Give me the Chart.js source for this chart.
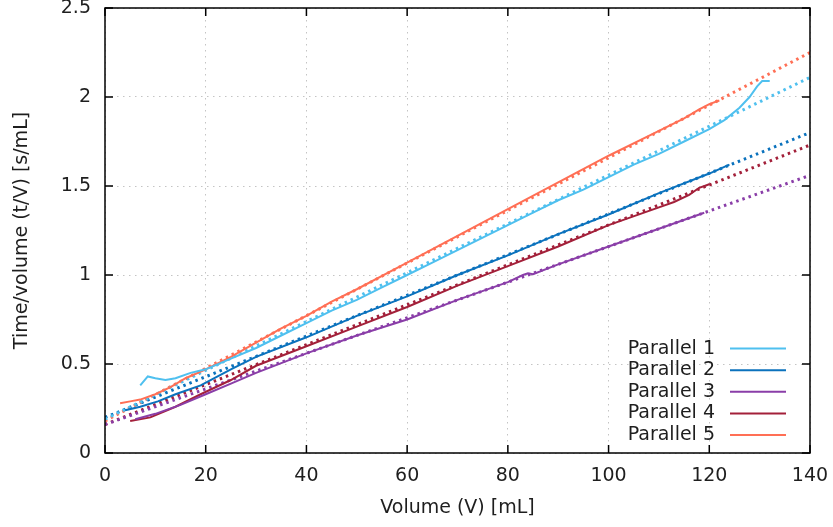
<!DOCTYPE html>
<html>
<head>
<meta charset="utf-8">
<title>Time/volume vs volume</title>
<script src="https://cdn.jsdelivr.net/npm/chart.js@4.4.1/dist/chart.umd.min.js"></script>
<style>
  html, body { margin: 0; padding: 0; background: #fff; }
  #wrap { width: 833px; height: 527px; }
</style>
</head>
<body>
<div id="wrap"><canvas id="chart" width="833" height="527"></canvas></div>
<script>
// measured runs (volume in mL, t/V in s/mL)
const seriesLabels = ['Parallel 1', 'Parallel 2', 'Parallel 3', 'Parallel 4', 'Parallel 5'];
const seriesColors = ['#4fc0ef', '#0b72bd', '#8a3ea8', '#a3203a', '#ff6f55'];

const vol1 = [7, 8.5, 10, 12, 14, 17, 20, 25, 30, 35, 40, 45, 50, 55, 60, 65, 70, 75, 80, 85, 90, 95, 100, 105, 110, 115, 120, 123, 126, 128, 129.5, 130.5, 132];
const tv1 = [0.38, 0.43, 0.42, 0.41, 0.42, 0.45, 0.47, 0.53, 0.59, 0.66, 0.73, 0.80, 0.86, 0.93, 1.00, 1.07, 1.14, 1.21, 1.28, 1.35, 1.42, 1.48, 1.55, 1.62, 1.68, 1.75, 1.82, 1.87, 1.94, 2.00, 2.06, 2.09, 2.09];

const vol2 = [4, 7, 10.5, 14, 19, 25, 30, 40, 50, 60, 70, 80, 90, 100, 110, 120, 124];
const tv2 = [0.24, 0.26, 0.29, 0.33, 0.38, 0.47, 0.54, 0.65, 0.77, 0.88, 1.00, 1.11, 1.23, 1.34, 1.46, 1.57, 1.62];

const vol3 = [6, 10, 15, 20, 25, 30, 40, 50, 60, 70, 80, 83, 84, 85, 90, 100, 110, 119];
const tv3 = [0.19, 0.22, 0.27, 0.33, 0.39, 0.45, 0.56, 0.66, 0.75, 0.86, 0.96, 1.00, 1.01, 1.005, 1.06, 1.16, 1.26, 1.35];

const vol4 = [5, 9, 14, 19, 25, 30, 40, 50, 60, 70, 80, 90, 100, 110, 113, 116, 118, 120];
const tv4 = [0.18, 0.20, 0.26, 0.33, 0.41, 0.49, 0.60, 0.71, 0.82, 0.94, 1.05, 1.16, 1.28, 1.38, 1.41, 1.45, 1.49, 1.51];

const vol5 = [3, 5, 7, 10, 13, 16, 20, 25, 30, 35, 40, 45, 50, 60, 70, 80, 90, 100, 110, 115, 118, 120, 122];
const tv5 = [0.28, 0.29, 0.30, 0.33, 0.37, 0.42, 0.47, 0.54, 0.62, 0.70, 0.77, 0.85, 0.92, 1.07, 1.22, 1.37, 1.52, 1.67, 1.81, 1.88, 1.93, 1.96, 1.98];

// linear fits, read at V = 0 and V = 140
const trendVolume = [0, 140];
const trendStart = [0.19, 0.20, 0.16, 0.16, 0.18];
const trendEnd = [2.11, 1.80, 1.56, 1.73, 2.25];

const xTickStep = 20;
const yTickStep = 0.5;

const volumes = [vol1, vol2, vol3, vol4, vol5];
const ratios = [tv1, tv2, tv3, tv4, tv5];

const fontFamily = "'DejaVu Sans', Verdana, sans-serif";
const textColor = '#1e1e1e';

function toPoints(xs, ys) {
    return xs.map((x, i) => ({ x: x, y: ys[i] }));
}

const datasets = [];
seriesLabels.forEach((label, i) => {
    datasets.push({
        label: label,
        data: toPoints(volumes[i], ratios[i]),
        borderColor: seriesColors[i],
        borderWidth: 2,
        pointRadius: 0,
        tension: 0
    });
});
seriesLabels.forEach((label, i) => {
    datasets.push({
        label: label + ' fit',
        data: toPoints(trendVolume, [trendStart[i], trendEnd[i]]),
        borderColor: seriesColors[i],
        borderWidth: 3,
        borderDash: [2.5, 4],
        pointRadius: 0
    });
});

// gnuplot-like box with inward ticks, plus the key in the lower right
const framePlugin = {
    id: 'frame',
    afterDatasetsDraw(chart) {
        const ctx = chart.ctx;
        const area = chart.chartArea;
        const xs = chart.scales.x;
        const ys = chart.scales.y;
        const tick = 8;

        ctx.save();
        ctx.strokeStyle = '#000';
        ctx.lineWidth = 1.5;
        ctx.strokeRect(area.left, area.top, area.right - area.left, area.bottom - area.top);

        ctx.beginPath();
        xs.ticks.forEach(t => {
            const px = xs.getPixelForValue(t.value);
            ctx.moveTo(px, area.bottom);
            ctx.lineTo(px, area.bottom - tick);
            ctx.moveTo(px, area.top);
            ctx.lineTo(px, area.top + tick);
        });
        ys.ticks.forEach(t => {
            const py = ys.getPixelForValue(t.value);
            ctx.moveTo(area.left, py);
            ctx.lineTo(area.left + tick, py);
            ctx.moveTo(area.right, py);
            ctx.lineTo(area.right - tick, py);
        });
        ctx.stroke();

        // key
        ctx.font = '19px ' + fontFamily;
        ctx.textAlign = 'right';
        ctx.textBaseline = 'middle';
        const rowGap = 21.6;
        const n = seriesLabels.length;
        seriesLabels.forEach((label, i) => {
            const cy = area.bottom - 18 - (n - 1 - i) * rowGap;
            ctx.fillStyle = textColor;
            ctx.fillText(label, area.right - 95, cy);
            ctx.strokeStyle = seriesColors[i];
            ctx.lineWidth = 2;
            ctx.beginPath();
            ctx.moveTo(area.right - 80, cy);
            ctx.lineTo(area.right - 24, cy);
            ctx.stroke();
        });
        ctx.restore();
    }
};

new Chart(document.getElementById('chart'), {
    type: 'line',
    data: { datasets: datasets },
    options: {
        responsive: false,
        animation: false,
        devicePixelRatio: 1,
        layout: { padding: { top: 8, right: 23, left: 0, bottom: 0 } },
        plugins: {
            legend: { display: false },
            tooltip: { enabled: false }
        },
        scales: {
            x: {
                type: 'linear',
                min: 0,
                max: 140,
                ticks: {
                    stepSize: xTickStep,
                    padding: 12,
                    color: textColor,
                    font: { family: fontFamily, size: 19 },
                    maxRotation: 0,
                    callback: v => String(v)
                },
                grid: { color: '#c4c4c4', lineWidth: 1, drawTicks: false },
                border: { display: false, dash: [1.5, 4.5] },
                title: {
                    display: true,
                    text: 'Volume (V) [mL]',
                    color: textColor,
                    font: { family: fontFamily, size: 19 },
                    padding: { top: 0, bottom: 8 }
                },
                afterFit: s => { s.height = 74; s.paddingLeft = 0; s.paddingRight = 0; }
            },
            y: {
                type: 'linear',
                min: 0,
                max: 2.5,
                ticks: {
                    stepSize: yTickStep,
                    padding: 14,
                    color: textColor,
                    font: { family: fontFamily, size: 19 },
                    callback: v => String(v)
                },
                grid: { color: '#c4c4c4', lineWidth: 1, drawTicks: false },
                border: { display: false, dash: [1.5, 4.5] },
                title: {
                    display: true,
                    text: 'Time/volume (t/V) [s/mL]',
                    color: textColor,
                    font: { family: fontFamily, size: 19 },
                    padding: { top: 11, bottom: 0 }
                },
                afterFit: s => { s.width = 105; s.paddingTop = 0; s.paddingBottom = 0; }
            }
        }
    },
    plugins: [framePlugin]
});
</script>
</body>
</html>
